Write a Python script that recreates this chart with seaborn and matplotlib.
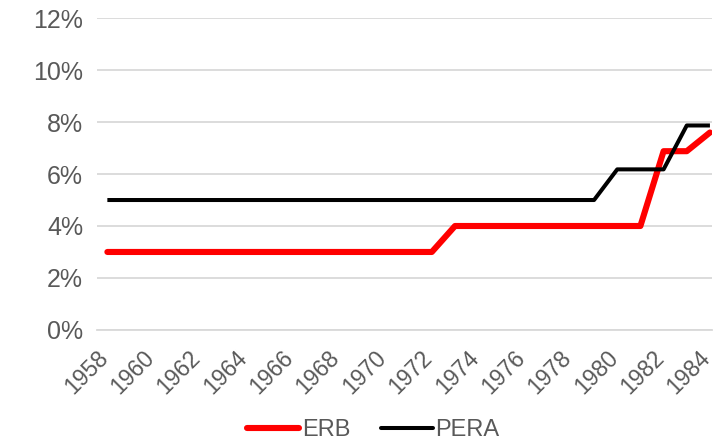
import matplotlib
matplotlib.use("Agg")
import matplotlib.pyplot as plt
import seaborn as sns
import pandas as pd
from matplotlib.ticker import PercentFormatter, MultipleLocator
from matplotlib.transforms import ScaledTranslation
from matplotlib.lines import Line2D

years = list(range(1958, 1985))
erb = [0.03] * 15 + [0.04] * 9 + [0.0688, 0.0688, 0.076]
pera = [0.05] * 22 + [0.0618, 0.0618, 0.0618, 0.0787, 0.0787]
series_names = ["ERB", "PERA"]
series_colors = ["#FF0000", "#000000"]
xtick_labels = [str(y) for y in range(1958, 1985, 2)]

df = pd.DataFrame({
    "Year": years * 2,
    "Rate": erb + pera,
    "Series": [series_names[0]] * len(years) + [series_names[1]] * len(years),
})

sns.set_style("white")
plt.rcParams["font.family"] = ["Liberation Sans", "DejaVu Sans"]

fig = plt.figure(figsize=(7.18, 4.44), dpi=100)
ax = fig.add_axes([0.135, 0.257, 0.857, 0.702])

sns.lineplot(data=df, x="Year", y="Rate", hue="Series",
             palette=dict(zip(series_names, series_colors)),
             ax=ax, legend=False)
ax.lines[0].set_linewidth(4.4)
ax.lines[1].set_linewidth(2.9)
for ln in ax.lines:
    ln.set_solid_capstyle("round")
    ln.set_solid_joinstyle("round")
ax.lines[1].set_solid_capstyle("butt")
ax.lines[0].set_zorder(3)
ax.lines[1].set_zorder(4)

ax.set_xlim(1957.55, 1984.1)
ax.set_ylim(0, 0.12)
ax.yaxis.set_major_locator(MultipleLocator(0.02))
ax.yaxis.set_major_formatter(PercentFormatter(1.0, decimals=0))
ax.set_xticks(list(range(1958, 1985, 2)))
ax.set_xticklabels(xtick_labels, rotation=45, ha="right", rotation_mode="anchor")
ax.tick_params(axis="x", labelsize=16.5, colors="#595959", length=0, pad=12)
ax.tick_params(axis="y", labelsize=18, colors="#595959", length=0, pad=10)
offset = ScaledTranslation(-8 / 72, 0, fig.dpi_scale_trans)
for lbl in ax.get_xticklabels():
    lbl.set_transform(lbl.get_transform() + offset)
ax.grid(axis="y", color="#D9D9D9", linewidth=1.3)
ax.set_axisbelow(True)
for s in ["top", "right", "left"]:
    ax.spines[s].set_visible(False)
ax.spines["bottom"].set_color("#D9D9D9")
ax.spines["bottom"].set_linewidth(1.3)
ax.set_xlabel("")
ax.set_ylabel("")

handles = [Line2D([0], [0], color=series_colors[0], lw=4.4, solid_capstyle="round"),
           Line2D([0], [0], color=series_colors[1], lw=2.9)]
fig.legend(handles, series_names, loc="center", bbox_to_anchor=(0.52, 0.032),
           ncol=2, frameon=False, fontsize=17, labelcolor="#595959",
           handlelength=2.2, handletextpad=0.1, columnspacing=1.3)

fig.savefig("out.png", dpi=100)
